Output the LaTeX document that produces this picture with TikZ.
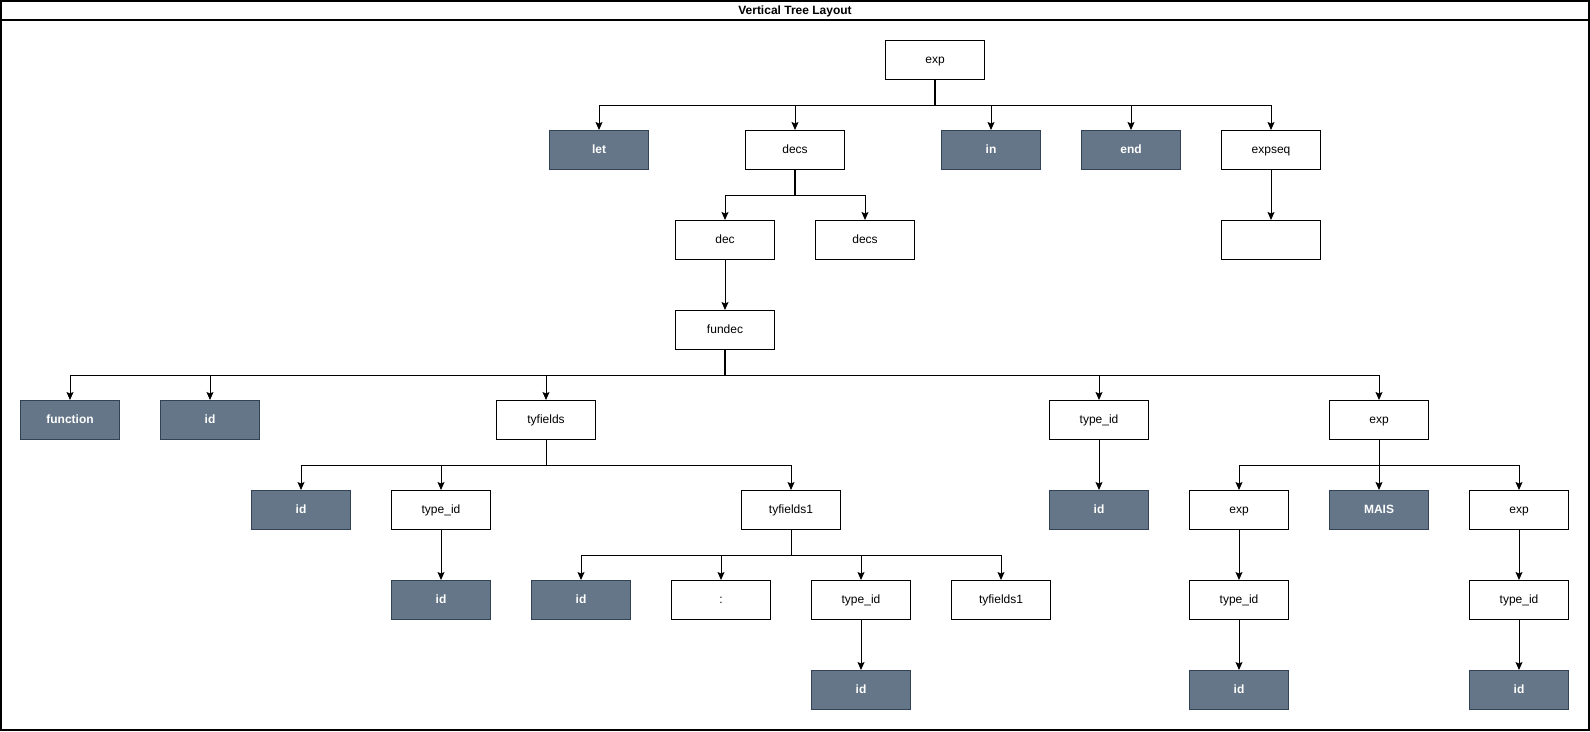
\documentclass[tikz,border=0pt]{standalone}
\usepackage{fontspec}
\setmainfont{Liberation Sans}
\usetikzlibrary{arrows.meta}
\definecolor{slatefill}{HTML}{647687}
\definecolor{slateline}{HTML}{314354}
\begin{document}
\begin{tikzpicture}[x=1pt,y=-1pt,
  box/.style={draw=black, line width=1pt, fill=white, minimum width=99pt, minimum height=39pt,
    inner sep=0pt, text height=8.6pt, text depth=2.6pt, font=\fontsize{12}{14}\selectfont},
  term/.style={box, draw=slateline, fill=slatefill, text=white,
    font=\fontsize{12}{14}\selectfont\bfseries},
  edge/.style={draw=black, line width=1pt, -{Stealth[length=8pt,width=7pt,inset=1.5pt]}},
  trunk/.style={draw=black, line width=2pt},
  frame/.style={draw=black, line width=1.5pt}]

\useasboundingbox (0,0) rectangle (1590,731);

% container with title band
\draw[frame] (1,1) rectangle (1589,730);
\draw[frame] (1,20) -- (1589,20);
\node[font=\fontsize{12}{14}\selectfont\bfseries, text height=8.6pt, text depth=2.6pt]
  (title) at (795,11) {Vertical Tree Layout};

% level 1
\node[box] (root) at (935,60) {exp};

% level 2
\node[term] (let)    at (599,150)  {let};
\node[box]  (decsA)  at (795,150)  {decs};
\node[term] (in)     at (991,150)  {in};
\node[term] (end)    at (1131,150) {end};
\node[box]  (expseq) at (1271,150) {expseq};

% level 3
\node[box] (dec)   at (725,240)  {dec};
\node[box] (decsB) at (865,240)  {decs};
\node[box] (blank) at (1271,240) {};

% level 4
\node[box] (fundec) at (725,330) {fundec};

% level 5
\node[term] (function) at (70,420)   {function};
\node[term] (idA)      at (210,420)  {id};
\node[box]  (tyfields) at (546,420)  {tyfields};
\node[box]  (tidA)     at (1099,420) {type\_id};
\node[box]  (expA)     at (1379,420) {exp};

% level 6
\node[term] (idB)  at (301,510)  {id};
\node[box]  (tidB) at (441,510)  {type\_id};
\node[box]  (tfA)  at (791,510)  {tyfields1};
\node[term] (idC)  at (1099,510) {id};
\node[box]  (expB) at (1239,510) {exp};
\node[term] (mais) at (1379,510) {MAIS};
\node[box]  (expC) at (1519,510) {exp};

% level 7
\node[term] (idD)   at (441,600)  {id};
\node[term] (idE)   at (581,600)  {id};
\node[box]  (colon) at (721,600)  {:};
\node[box]  (tidC)  at (861,600)  {type\_id};
\node[box]  (tfB)   at (1001,600) {tyfields1};
\node[box]  (tidD)  at (1239,600) {type\_id};
\node[box]  (tidE)  at (1519,600) {type\_id};

% level 8
\node[term] (idF) at (861,690)  {id};
\node[term] (idG) at (1239,690) {id};
\node[term] (idH) at (1519,690) {id};

% heavier shared stems
\draw[trunk] (root.south) -- ++(0,25);
\draw[trunk] (decsA.south) -- ++(0,25);
\draw[trunk] (fundec.south) -- ++(0,25);

% orthogonal tree connectors
\foreach \c in {let,decsA,in,end,expseq}
  \draw[edge] (root.south) -- ++(0,25) -| (\c.north);
\foreach \c in {dec,decsB}
  \draw[edge] (decsA.south) -- ++(0,25) -| (\c.north);
\foreach \c in {function,idA,tyfields,tidA,expA}
  \draw[edge] (fundec.south) -- ++(0,25) -| (\c.north);
\foreach \c in {idB,tidB,tfA}
  \draw[edge] (tyfields.south) -- ++(0,25) -| (\c.north);
\foreach \c in {expB,mais,expC}
  \draw[edge] (expA.south) -- ++(0,25) -| (\c.north);
\foreach \c in {idE,colon,tidC,tfB}
  \draw[edge] (tfA.south) -- ++(0,25) -| (\c.north);

% single-child links
\draw[edge] (expseq) -- (blank);
\draw[edge] (dec) -- (fundec);
\draw[edge] (tidA) -- (idC);
\draw[edge] (tidB) -- (idD);
\draw[edge] (tidC) -- (idF);
\draw[edge] (expB) -- (tidD);
\draw[edge] (expC) -- (tidE);
\draw[edge] (tidD) -- (idG);
\draw[edge] (tidE) -- (idH);
\end{tikzpicture}
\end{document}
